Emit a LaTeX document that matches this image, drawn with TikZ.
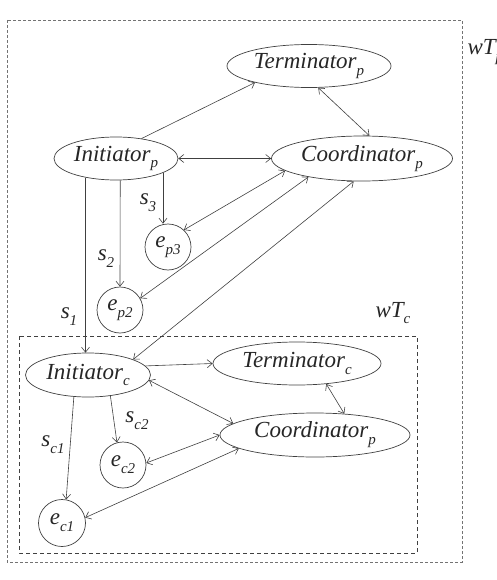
\documentclass[tikz,border=0pt]{standalone}
\usepackage{fontspec}
\setmainfont{Liberation Serif}
\usetikzlibrary{arrows.meta,shapes.geometric}
\newcommand{\lsub}[1]{\raisebox{-0.3em}{\fontsize{15}{15}\selectfont #1}}

\begin{document}
\begin{tikzpicture}[x=1pt, y=-1pt, >={Straight Barb[length=5pt,width=8pt]},
    every node/.style={font=\fontsize{23}{25}\selectfont\itshape, text=black!85},
    state/.style={ellipse, draw=black!75, line width=0.7pt, inner sep=0pt},
    event/.style={circle, draw=black!75, line width=0.7pt, inner sep=0pt, minimum size=46pt},
    link/.style={draw=black!75, line width=0.6pt}]
    \useasboundingbox (0,0) rectangle (497,580);

    % boxes of the two transactions
    \draw[black!55, line width=0.8pt, dash pattern=on 3pt off 2pt] (7,20) rectangle (462,562);
    \draw[black!75, line width=0.6pt, dash pattern=on 4pt off 3pt] (19,336) rectangle (417,553);
    \node[anchor=west] (wTp) at (464,52) {wT\lsub{p}};
    \node (wTc) at (393,313) {wT\lsub{c}};

    % parent transaction
    \node[state, minimum width=164pt, minimum height=43pt] (Tp) at (309,66) {Terminator\lsub{p}};
    \node[state, minimum width=124pt, minimum height=43pt] (Ip) at (116,158.5) {Initiator\lsub{p}};
    \node[state, minimum width=181pt, minimum height=45pt] (Cp) at (362,158.5) {Coordinator\lsub{p}};
    \node[event] (ep3) at (168,247) {e\lsub{p3}};
    \node[event] (ep2) at (120,310) {e\lsub{p2}};

    % child transaction
    \node[state, minimum width=125pt, minimum height=44pt] (Ic) at (88,375) {Initiator\lsub{c}};
    \node[state, minimum width=168pt, minimum height=43pt] (Tc) at (297,363.5) {Terminator\lsub{c}};
    \node[state, minimum width=190pt, minimum height=44pt] (Cc) at (315,435) {Coordinator\lsub{p}};
    \node[event] (ec2) at (123,465) {e\lsub{c2}};
    \node[event, minimum size=47pt] (ec1) at (62,523) {e\lsub{c1}};

    % steps
    \draw[link, ->] (Ip.212) -- (Ip.212 |- Ic.north);
    \draw[link, ->] (Ip.281) -- (ep2.north);
    \draw[link, ->] (Ip.343) -- (Ip.343 |- ep3.north);
    \node (s1) at (69,317) {s\lsub{1}};
    \node (s2) at (106,259) {s\lsub{2}};
    \node (s3) at (148,203) {s\lsub{3}};
    \draw[link, ->] (Ic.237) -- (ec1.80);
    \draw[link, ->] (Ic.317) -- (ec2.105);
    \node (sc1) at (53,445) {s\lsub{c1}};
    \node (sc2) at (137,421) {s\lsub{c2}};

    % messages
    \draw[link, ->] (Ip.38) -- (Tp.197);
    \draw[link, <->] (Tp.293) -- (Cp.72);
    \draw[link, <->] (Ip.east) -- (Cp.west);
    \draw[link, <->] (Cp.189) -- (ep3.47);
    \draw[link, <->] (Cp.199) -- (ep2.30);
    \draw[link, <->] (Cp.250) -- (Ic.19);
    \draw[link, ->] (Ic.9) -- (Tc.west);
    \draw[link, <->] (Ic.355) -- (Cc.172);
    \draw[link, <->] (Tc.325) -- (Cc.36);
    \draw[link, <->] (ec2.5) -- (Cc.west);
    \draw[link, <->] (ec1.13) -- (Cc.190);
\end{tikzpicture}
\end{document}
